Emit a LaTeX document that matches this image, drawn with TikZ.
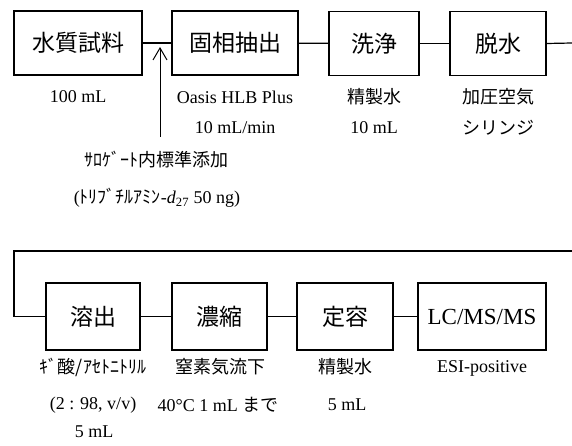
\documentclass[tikz,border=0pt]{standalone}
\usepackage{fontspec}
\setmainfont{Liberation Serif}
\newfontfamily\jp{Noto Sans CJK JP}
\usetikzlibrary{arrows.meta}
\newcommand\J[1]{{\jp #1}}
\tikzset{
  stepbox/.style={draw, line width=1.6pt, inner sep=0pt, font=\fontsize{23}{26}\selectfont, minimum height=64pt},
  stepbox2/.style={stepbox, minimum height=67pt},
  lbl/.style={inner sep=0pt, font=\fontsize{18}{20}\selectfont},
  conn/.style={line width=1.2pt},
  conn2/.style={line width=1.8pt},
}
\begin{document}
\begin{tikzpicture}[x=1pt,y=-1pt]
\useasboundingbox (0,0) rectangle (572,446);
% row 1
\node[stepbox, minimum width=128pt] (a1) at (78,43) {\J{水質試料}};
\node[stepbox, minimum width=126pt] (a2) at (235,43) {\J{固相抽出}};
\node[stepbox, minimum width=90pt] (a3) at (374,43.5) {\J{洗浄}};
\node[stepbox, minimum width=96pt] (a4) at (498,43.5) {\J{脱水}};
\coordinate (r1) at (572,43);
\draw[conn] (a1) -- (a2);
\draw[conn] (a2) -- (a3);
\draw[conn] (a3) -- (a4);
\draw[conn] (a4.east) -- (r1);
% labels row 1
\node[lbl] (l1) at (78,97) {100 mL};
\node[lbl] (l2a) at (235,97) {Oasis HLB Plus};
\node[lbl] (l2b) at (235,128) {10 mL/min};
\node[lbl] (l3a) at (374,97) {\J{精製水}};
\node[lbl] (l3b) at (374,128) {10 mL};
\node[lbl] (l4a) at (498,97) {\J{加圧空気}};
\node[lbl] (l4b) at (498,128) {\J{シリンジ}};
% surrogate addition
\node[lbl] (s1) at (156,160) {\J{ｻﾛｹﾞｰﾄ内標準添加}};
\node[lbl] (s2) at (157,198) {(\J{ﾄﾘﾌﾞﾁﾙｱﾐﾝ}-\textit{d}$_{\mathrm{27}}$ 50 ng)};
\coordinate (addbase) at (160,137);
\coordinate (addtip) at (160,47);
\draw[line width=1pt, -{Straight Barb[length=12pt,width=14pt,line width=1pt]}] (addbase) -- (addtip);
% row 2
\node[stepbox2, minimum width=94pt] (b1) at (93,316.5) {\J{溶出}};
\node[stepbox2, minimum width=95pt] (b2) at (219.5,316.5) {\J{濃縮}};
\node[stepbox2, minimum width=96pt] (b3) at (345,316.5) {\J{定容}};
\node[stepbox2, minimum width=128pt] (b4) at (482,316.5) {LC/MS/MS};
\coordinate (r2) at (572,251);
\coordinate (lt) at (14,251);
\draw[conn] (r2) -- (lt) -- (lt |- b1.west);
\draw[conn2] (lt |- b1.west) -- (b1.west);
\draw[conn2] (b1) -- (b2);
\draw[conn2] (b2) -- (b3);
\draw[conn2] (b3) -- (b4);
% labels row 2
\node[lbl] (m1a) at (93,367) {\J{ｷﾞ酸/ｱｾﾄﾆﾄﾘﾙ}};
\node[lbl] (m1b) at (93,405) {(2 : 98, v/v)};
\node[lbl] (m1c) at (94,432) {5 mL};
\node[lbl] (m2a) at (220,367) {\J{窒素気流下}};
\node[lbl] (m2b) at (218,405) {40°C 1 mL \J{まで}};
\node[lbl] (m3a) at (345,367) {\J{精製水}};
\node[lbl] (m3b) at (347,405) {5 mL};
\node[lbl] (m4) at (482,368) {ESI-positive};
\end{tikzpicture}
\end{document}
